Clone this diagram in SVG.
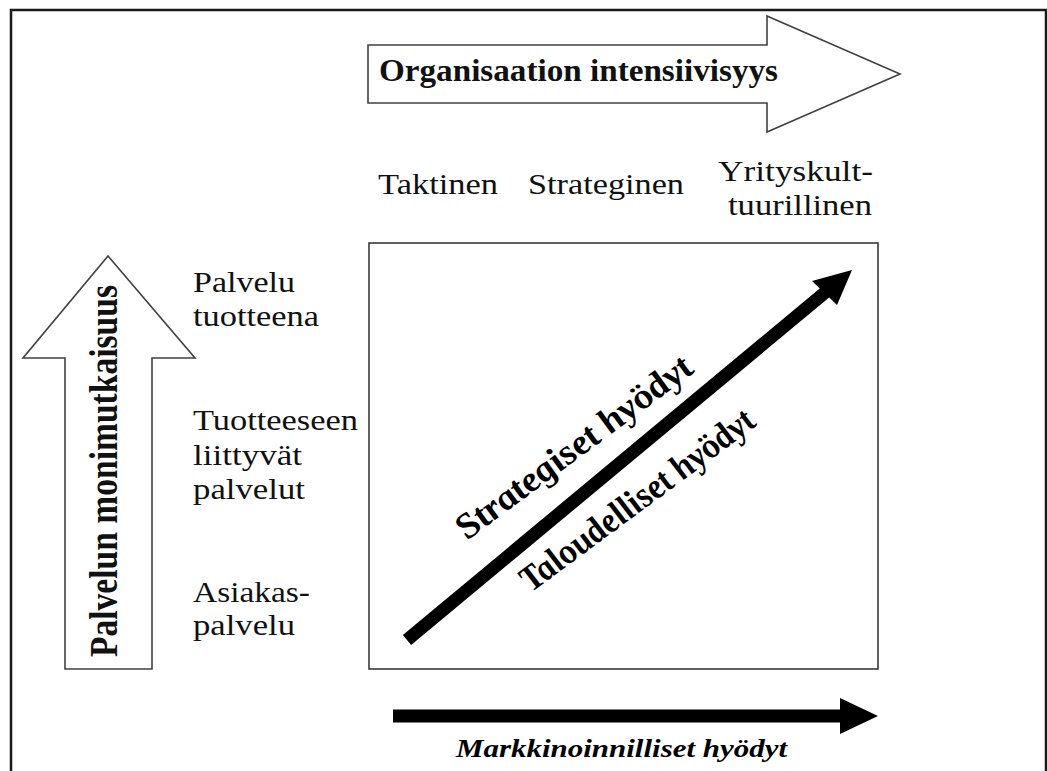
<svg xmlns="http://www.w3.org/2000/svg" width="1047" height="771" viewBox="0 0 1047 771">
  <style>
    .frame { fill: none; stroke: #1a1a1a; stroke-width: 2.5; }
    .hollow { fill: #ffffff; stroke: #404040; stroke-width: 1.6; stroke-linejoin: miter; }
    .box { fill: none; stroke: #3a3a3a; stroke-width: 1.6; }
    text { font-family: "Liberation Serif", Tinos, "Times New Roman", Times, "Nimbus Roman", serif; }
    .lbl { font-size: 29px; fill: #111111; }
    .head { font-weight: bold; fill: #111111; }
    .ital { font-weight: bold; font-style: italic; fill: #000000; }
    .shaft { stroke: #000000; stroke-width: 13; stroke-linecap: butt; fill: none; }
    .tip { fill: #000000; }
  </style>

  <!-- outer border -->
  <rect class="frame" x="11" y="10" width="1035" height="780"/>

  <!-- horizontal block arrow: organisational intensity -->
  <g id="axis-top">
    <polygon class="hollow" points="368,45 767,45 767,16 900,74 767,132 767,103 368,103"/>
    <text class="head" x="379" y="81" font-size="31" textLength="399" lengthAdjust="spacingAndGlyphs">Organisaation intensiivisyys</text>
  </g>

  <!-- vertical block arrow: service complexity -->
  <g id="axis-left">
    <polygon class="hollow" points="65,669 65,358 23,358 108,256 195,358 152,358 152,669"/>
    <text class="head" font-size="33.5" textLength="372" lengthAdjust="spacingAndGlyphs" transform="translate(117,657) rotate(-90) scale(1,1.2)">Palvelun monimutkaisuus</text>
  </g>

  <!-- column headings -->
  <g id="col-taktinen">
    <text class="lbl" x="378" y="194" textLength="120" lengthAdjust="spacingAndGlyphs">Taktinen</text>
  </g>
  <g id="col-strateginen">
    <text class="lbl" x="528" y="194" textLength="156" lengthAdjust="spacingAndGlyphs">Strateginen</text>
  </g>
  <g id="col-yrityskulttuurillinen">
    <text class="lbl" x="718" y="181" textLength="155" lengthAdjust="spacingAndGlyphs">Yrityskult-</text>
    <text class="lbl" x="728" y="215" textLength="144" lengthAdjust="spacingAndGlyphs">tuurillinen</text>
  </g>

  <!-- row headings -->
  <g id="row-palvelu-tuotteena">
    <text class="lbl" x="193" y="292" textLength="102" lengthAdjust="spacingAndGlyphs">Palvelu</text>
    <text class="lbl" x="193" y="326" textLength="126" lengthAdjust="spacingAndGlyphs">tuotteena</text>
  </g>
  <g id="row-tuotteeseen">
    <text class="lbl" x="193" y="430" textLength="165" lengthAdjust="spacingAndGlyphs">Tuotteeseen</text>
    <text class="lbl" x="193" y="465" textLength="109" lengthAdjust="spacingAndGlyphs">liittyvät</text>
    <text class="lbl" x="193" y="499" textLength="112" lengthAdjust="spacingAndGlyphs">palvelut</text>
  </g>
  <g id="row-asiakaspalvelu">
    <text class="lbl" x="193" y="602" textLength="117" lengthAdjust="spacingAndGlyphs">Asiakas-</text>
    <text class="lbl" x="193" y="635" textLength="102" lengthAdjust="spacingAndGlyphs">palvelu</text>
  </g>

  <!-- matrix area -->
  <g id="matrix">
    <rect class="box" x="369" y="243" width="509" height="426"/>
  </g>

  <!-- benefit arrows -->
  <g id="connectors">
    <line class="shaft" x1="407" y1="640" x2="828" y2="290"/>
    <polygon class="tip" points="852,270 837,305 812,281"/>
    <line class="shaft" x1="393" y1="716" x2="842" y2="716"/>
    <polygon class="tip" points="878,716 840,698 840,734"/>
  </g>

  <g id="benefit-labels">
    <text class="ital" font-size="34" textLength="254" lengthAdjust="spacingAndGlyphs" transform="translate(468,540) scale(1.2,1) rotate(-41.6)">Strategiset hyödyt</text>
    <text class="ital" font-size="34" textLength="252" lengthAdjust="spacingAndGlyphs" transform="translate(532,592) scale(1.2,1) rotate(-41.6)">Taloudelliset hyödyt</text>
    <text class="ital" x="456" y="757" font-size="26" textLength="331" lengthAdjust="spacingAndGlyphs">Markkinoinnilliset hyödyt</text>
  </g>
</svg>
